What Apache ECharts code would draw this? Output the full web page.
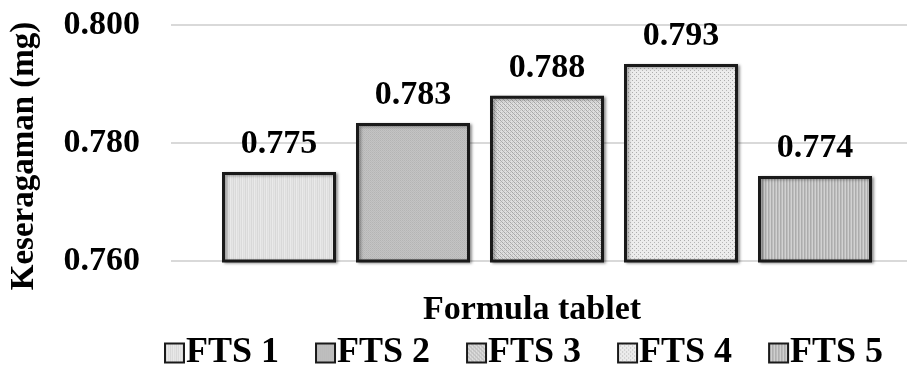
<!DOCTYPE html>
<html>
<head>
<meta charset="utf-8">
<script src="https://cdn.jsdelivr.net/npm/echarts@6/dist/echarts.min.js"></script>
<style>html,body{margin:0;padding:0;background:#fff}#c{width:909px;height:368px}</style>
</head>
<body>
<div id="c"></div>
<script>
const categories = ['FTS 1', 'FTS 2', 'FTS 3', 'FTS 4', 'FTS 5'];
const values = [0.7751, 0.7834, 0.7880, 0.7934, 0.7744];
const yTicks = [0.760, 0.780, 0.800];
const yTitle = 'Keseragaman (mg)';
const xTitle = 'Formula tablet';

const FONT = '"Liberation Serif", "Times New Roman", serif';

function makePattern(w, h, draw) {
  const c = document.createElement('canvas');
  c.width = w; c.height = h;
  const ctx = c.getContext('2d');
  draw(ctx);
  return { image: c, repeat: 'repeat' };
}
function px(ctx, x, y, col) { ctx.fillStyle = col; ctx.fillRect(x, y, 1, 1); }

const patterns = [
  // FTS1: light gray with faint vertical streaks
  makePattern(6, 4, ctx => {
    const cols = ['#e6e6e6', '#dadada', '#eaeaea', '#dedede', '#e5e5e5', '#d8d8d8'];
    cols.forEach((c, i) => { ctx.fillStyle = c; ctx.fillRect(i, 0, 1, 4); });
  }),
  // FTS2: medium gray fine texture
  makePattern(2, 2, ctx => {
    ctx.fillStyle = '#c4c4c4'; ctx.fillRect(0, 0, 2, 2);
    px(ctx, 0, 0, '#b4b4b4'); px(ctx, 1, 1, '#bababa');
  }),
  // FTS3: dense woven dots
  makePattern(4, 4, ctx => {
    ctx.fillStyle = '#dedede'; ctx.fillRect(0, 0, 4, 4);
    px(ctx, 0, 0, '#a6a6a6'); px(ctx, 1, 1, '#b0b0b0');
    px(ctx, 2, 2, '#a6a6a6'); px(ctx, 3, 3, '#b0b0b0');
    px(ctx, 2, 0, '#c4c4c4'); px(ctx, 0, 2, '#c4c4c4');
  }),
  // FTS4: light with dotted rows
  makePattern(4, 4, ctx => {
    ctx.fillStyle = '#ececec'; ctx.fillRect(0, 0, 4, 4);
    px(ctx, 0, 0, '#acacac'); px(ctx, 2, 2, '#b6b6b6');
  }),
  // FTS5: vertical stripes
  makePattern(3, 4, ctx => {
    ctx.fillStyle = '#bebebe'; ctx.fillRect(0, 0, 3, 4);
    ctx.fillStyle = '#acacac'; ctx.fillRect(0, 0, 1, 4);
    ctx.fillStyle = '#d2d2d2'; ctx.fillRect(2, 0, 1, 4);
  })
];

const series = categories.map((name, i) => ({
  name: name,
  type: 'bar',
  xAxisIndex: 1,
  yAxisIndex: 1,
  barWidth: 114,
  barGap: '-100%',
  data: categories.map((c, j) => j === i ? values[i] : null),
  itemStyle: {
    color: patterns[i],
    borderColor: '#1a1a1a',
    borderWidth: 3,
    shadowColor: 'rgba(0,0,0,0.35)',
    shadowBlur: 3,
    shadowOffsetX: 2,
    shadowOffsetY: 1
  },
  label: {
    show: true,
    position: 'top',
    distance: 11,
    formatter: p => Number(p.value).toFixed(3),
    fontFamily: FONT,
    fontWeight: 'bold',
    fontSize: 34,
    color: '#000'
  }
}));

const chart = echarts.init(document.getElementById('c'), null, { renderer: 'canvas' });
chart.setOption({
  animation: false,
  backgroundColor: '#fff',
  grid: [
    { left: 171, right: 2, top: 25, bottom: 107, outerBoundsMode: 'none', containLabel: false },
    { left: 212, right: 27, top: 25, bottom: 107, outerBoundsMode: 'none', containLabel: false }
  ],
  xAxis: [
    {
      gridIndex: 0, type: 'category', data: categories,
      axisLine: { show: false }, axisTick: { show: false }, axisLabel: { show: false },
      name: xTitle, nameLocation: 'middle', nameGap: 32,
      nameTextStyle: { fontFamily: FONT, fontWeight: 'bold', fontSize: 34, color: '#000', padding: [0, 14, 0, 0] }
    },
    {
      gridIndex: 1, type: 'category', data: categories,
      axisLine: { show: false }, axisTick: { show: false }, axisLabel: { show: false }
    }
  ],
  yAxis: [
    {
      gridIndex: 0, type: 'value', min: 0.76, max: 0.8, interval: 0.02,
      axisLine: { show: false }, axisTick: { show: false },
      splitLine: { lineStyle: { color: '#d9d9d9', width: 2 } },
      axisLabel: {
        formatter: v => v.toFixed(3), margin: 31,
        fontFamily: FONT, fontWeight: 'bold', fontSize: 34, color: '#000'
      },
      name: yTitle, nameLocation: 'middle', nameGap: 130, nameRotate: 90,
      nameTextStyle: { fontFamily: FONT, fontWeight: 'bold', fontSize: 33, color: '#000', padding: [0, 26, 0, 0] }
    },
    {
      gridIndex: 1, type: 'value', min: 0.76, max: 0.8, interval: 0.02,
      axisLine: { show: false }, axisTick: { show: false },
      splitLine: { show: false }, axisLabel: { show: false }
    }
  ],
  legend: {
    data: categories,
    bottom: -8,
    left: 159,
    itemWidth: 19,
    itemHeight: 19,
    itemGap: 36,
    icon: 'rect',
    textStyle: { fontFamily: FONT, fontWeight: 'bold', fontSize: 36, color: '#000', padding: [0, 0, 0, -3] }
  },
  series: series
});
</script>
</body>
</html>
